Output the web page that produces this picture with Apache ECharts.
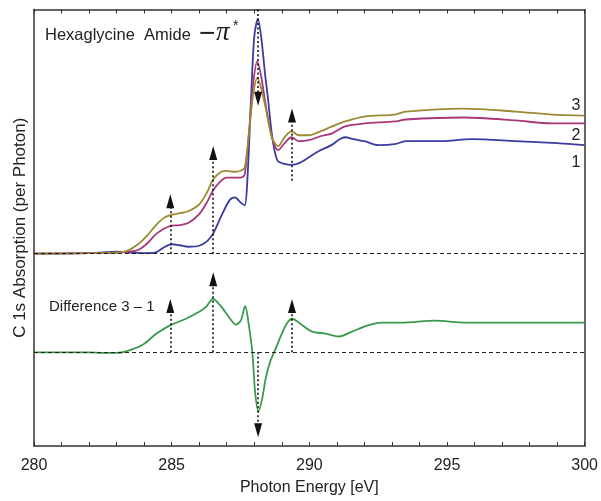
<!DOCTYPE html>
<html><head><meta charset="utf-8">
<script src="https://cdn.jsdelivr.net/npm/echarts@6/dist/echarts.min.js"></script>
<style>html,body{margin:0;padding:0;background:#fff;overflow:hidden}#c{width:601px;height:501px}</style>
</head><body><div id="c"></div>
<script>
// ---- data (photon energy in eV, absorption in arbitrary units) ----
const energy1 = [280,281,282,282.6,283,283.4,284,284.4,284.7,285,285.3,285.6,286,286.3,286.5,286.8,287.1,287.3,287.5,287.65,287.75,287.88,288,288.13,288.25,288.4,288.5,288.6,288.7,288.85,289.1,289.35,289.65,290,290.35,290.8,291.1,291.3,291.6,292,292.5,293.1,293.5,294.8,295.9,297.5,299,300];
const abs1 =    [0,0,0.005,0.015,0.02,0.01,0.005,0.01,0.06,0.095,0.085,0.07,0.08,0.13,0.2,0.38,0.54,0.57,0.52,0.49,0.75,1.55,2.2,2.38,2.2,1.8,1.57,1.3,1.1,0.94,0.91,0.9,0.92,0.98,1.04,1.1,1.16,1.18,1.16,1.14,1.1,1.11,1.14,1.14,1.16,1.14,1.12,1.1];
const energy2 = [280,282,283,283.5,283.8,284.1,284.4,284.7,284.95,285.3,285.6,286,286.3,286.5,286.8,287,287.3,287.5,287.65,287.8,287.95,288.11,288.25,288.42,288.65,288.87,289.1,289.35,289.62,289.98,290.4,290.83,291.3,292,293.1,293.5,295.6,297.5,298.8,300];
const abs2 =    [0,0.005,0.01,0.02,0.04,0.1,0.19,0.25,0.28,0.29,0.31,0.4,0.53,0.64,0.74,0.77,0.77,0.77,0.8,1.2,1.7,1.95,1.8,1.5,1.17,1.05,1.12,1.18,1.14,1.15,1.19,1.22,1.29,1.32,1.34,1.36,1.38,1.35,1.32,1.32];
const energy3 = [280,282,283,283.4,283.8,284.1,284.4,284.7,284.95,285.3,285.6,286,286.3,286.5,286.8,287,287.3,287.5,287.65,287.8,287.95,288.11,288.25,288.42,288.65,288.87,289.1,289.35,289.62,289.98,290.4,290.83,291.3,292,293.1,293.5,295.6,297.5,298.8,300];
const abs3 =    [0,0.005,0.01,0.03,0.1,0.18,0.28,0.36,0.39,0.41,0.43,0.5,0.63,0.75,0.83,0.84,0.83,0.84,0.87,1.2,1.6,1.78,1.68,1.47,1.17,1.09,1.18,1.24,1.2,1.2,1.24,1.29,1.34,1.39,1.41,1.44,1.47,1.44,1.41,1.4];
const energyDiff = [280,282,282.5,283,283.35,283.95,284.44,284.92,285.52,286,286.25,286.5,286.75,286.97,287.15,287.33,287.51,287.67,287.79,287.93,288.03,288.15,288.28,288.42,288.57,288.72,289.02,289.2,289.38,289.62,290.1,290.59,291.07,291.55,292.1,292.63,293.36,294.56,295.65,300];
const diff31 =     [0,0,-0.005,-0.005,0.01,0.077,0.187,0.27,0.34,0.41,0.46,0.54,0.48,0.4,0.33,0.28,0.32,0.47,0.3,0,-0.4,-0.6,-0.48,-0.26,-0.1,0,0.2,0.3,0.34,0.3,0.21,0.19,0.16,0.21,0.27,0.3,0.3,0.32,0.3,0.3];
// arrows: energy, start value, end (tip) value
const arrowEnergy = [284.95, 286.51, 288.14, 289.37];
const arrowUpFrom = [0, 0, 2.475, 0.74];
const arrowUpTo   = [0.60, 1.09, 1.50, 1.47];
const arrowDiffFrom = [0, 0, 0, 0];
const arrowDiffTo   = [0.54, 0.81, -0.86, 0.54];
const xTicks = [280, 285, 290, 295, 300];
const curveLabels = ['1', '2', '3'];

const FONT = 'Liberation Sans, Arial, Helvetica, sans-serif';
const pair = (xs, ys) => xs.map((x, i) => [x, ys[i]]);
const tip = 0.07;
function arrowLines(froms, tos) {
  return arrowEnergy.map((e, i) => {
    const dir = tos[i] > froms[i] ? 1 : -1;
    return [{coord: [e, froms[i]], symbol: 'none'}, {coord: [e, tos[i] - dir * tip], symbol: 'triangle'}];
  });
}
const dotted = {color: '#111', width: 1.6, type: [2, 2.5]};
const dashed = {color: '#222', width: 1.2, type: [4, 3]};

const chart = echarts.init(document.getElementById('c'), null, {renderer: 'canvas', width: 601, height: 501});
const baseSeries = (name, data, color, yi) => ({
  name, type: 'line', data, xAxisIndex: 0, yAxisIndex: yi, showSymbol: false, symbol: 'none',
  smooth: 0.3, lineStyle: {color, width: 1.8}, silent: true, z: 3
});
const s1 = baseSeries('1', pair(energy1, abs1), '#3a3c9f', 0);
const s2 = baseSeries('2', pair(energy2, abs2), '#a8377a', 0);
const s3 = baseSeries('3', pair(energy3, abs3), '#9c8a32', 0);
const sd = baseSeries('3-1', pair(energyDiff, diff31), '#3a9a4c', 1);
s1.markLine = {silent: true, symbol: ['none', 'none'], label: {show: false}, animation: false,
  lineStyle: dashed, data: [[{coord: [280, 0]}, {coord: [300, 0]}]]};
s2.markLine = {silent: true, symbol: ['none', 'triangle'], symbolSize: [8, 14], label: {show: false}, animation: false,
  lineStyle: dotted, data: arrowLines(arrowUpFrom, arrowUpTo)};
sd.markLine = {silent: true, symbol: ['none', 'triangle'], symbolSize: [8, 14], label: {show: false}, animation: false,
  lineStyle: dotted, data: arrowLines(arrowDiffFrom, arrowDiffTo).concat([[{coord: [280, 0], symbol: 'none', lineStyle: dashed}, {coord: [300, 0], symbol: 'none'}]])};

const axisLineStyle = {color: '#333', width: 1.5};
const txt = (t, x, y, size, extra) => ({type: 'text', x, y, silent: true,
  style: Object.assign({text: t, fontSize: size, fontFamily: FONT, fill: '#222', verticalAlign: 'middle'}, extra || {})});
chart.setOption({
  animation: false,
  grid: {left: 34, top: 9.5, width: 553, height: 442.5},
  xAxis: [
    {type: 'value', min: 280, max: 300, interval: 5, position: 'bottom',
     axisLine: {onZero: false, lineStyle: axisLineStyle},
     axisTick: {inside: true, length: 4, lineStyle: {color: '#333'}},
     minorTick: {show: true, splitNumber: 5, length: 4, lineStyle: {color: '#333'}},
     splitLine: {show: false},
     axisLabel: {color: '#222', fontSize: 16, fontFamily: FONT, margin: 12},
     name: 'Photon Energy [eV]', nameLocation: 'middle', nameGap: 34,
     nameTextStyle: {color: '#222', fontSize: 16, fontFamily: FONT}},
    {type: 'value', min: 280, max: 300, interval: 5, position: 'top',
     axisLine: {onZero: false, lineStyle: axisLineStyle},
     axisTick: {inside: true, length: 4, lineStyle: {color: '#333'}},
     minorTick: {show: true, splitNumber: 5, length: 4, lineStyle: {color: '#333'}},
     splitLine: {show: false}, axisLabel: {show: false}}
  ],
  yAxis: [
    {type: 'value', min: -1.95, max: 2.475, position: 'left',
     axisLine: {show: true, onZero: false, lineStyle: axisLineStyle},
     axisTick: {show: false}, axisLabel: {show: false}, splitLine: {show: false},
     name: 'C 1s Absorption (per Photon)', nameLocation: 'middle', nameGap: 5, nameRotate: 90,
     nameTextStyle: {color: '#222', fontSize: 17, fontFamily: FONT}},
    {type: 'value', min: -0.95, max: 3.475, position: 'right',
     axisLine: {show: true, onZero: false, lineStyle: axisLineStyle},
     axisTick: {show: false}, axisLabel: {show: false}, splitLine: {show: false}}
  ],
  series: [s1, s2, s3, sd],
  graphic: [
    txt('Hexaglycine  Amide', 45, 35, 16.5),
    txt('−', 199, 34, 28),
    txt('π', 216, 33, 27, {fontFamily: 'Liberation Serif, DejaVu Serif, serif', fontStyle: 'italic'}),
    txt('*', 233, 26, 14),
    txt('Difference 3 – 1', 49, 307, 15),
    txt(curveLabels[2], 576, 106, 16, {align: 'center'}),
    txt(curveLabels[1], 576, 136, 16, {align: 'center'}),
    txt(curveLabels[0], 576, 163, 16, {align: 'center'})
  ]
});
</script></body></html>
